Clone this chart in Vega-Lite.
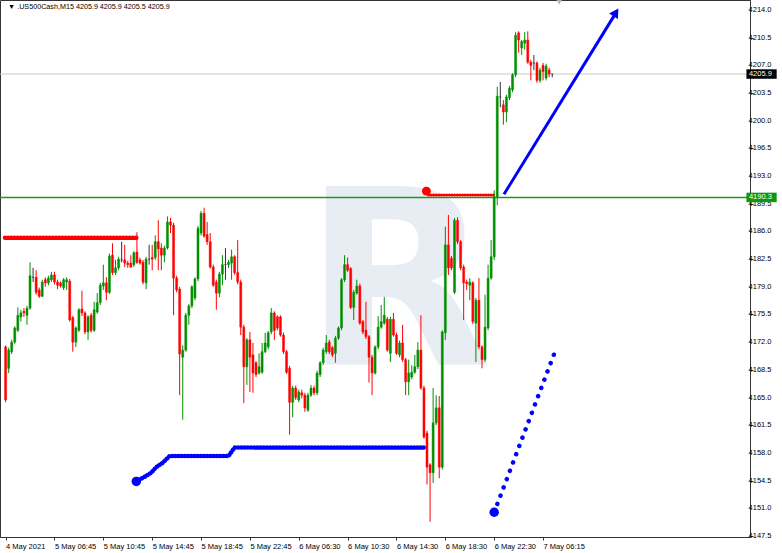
{
"$schema":"https://vega.github.io/schema/vega-lite/v6.json",
"width":750,"height":537,"autosize":{"type":"none"},"padding":{"left":0,"top":0,"right":32,"bottom":16},"background":"white",
"config":{"view":{"stroke":"#333","strokeWidth":1},"axis":{"labelFont":"Liberation Sans","labelFontSize":7.5,"labelColor":"#000","tickColor":"#333","domainColor":"#333","tickSize":3,"grid":false}},
"datasets":{
"candles":[
{"i":0,"o":4171.4,"h":4171.6,"l":4164.4,"c":4164.7},{"i":1,"o":4168.7,"h":4171.3,"l":4168.1,"c":4171.0},{"i":2,"o":4170.8,"h":4172.3,"l":4170.5,"c":4172.0},{"i":3,"o":4172.0,"h":4174.0,"l":4171.8,"c":4173.8},{"i":4,"o":4173.5,"h":4176.4,"l":4173.3,"c":4175.4},{"i":5,"o":4175.2,"h":4176.1,"l":4174.6,"c":4175.7},{"i":6,"o":4175.9,"h":4176.3,"l":4175.2,"c":4175.7},{"i":7,"o":4175.4,"h":4176.6,"l":4174.2,"c":4176.3},{"i":8,"o":4176.3,"h":4182.1,"l":4176.1,"c":4180.4},{"i":9,"o":4180.2,"h":4181.4,"l":4179.6,"c":4180.2},
{"i":10,"o":4180.2,"h":4181.1,"l":4178.0,"c":4178.3},{"i":11,"o":4178.6,"h":4178.9,"l":4177.6,"c":4177.8},{"i":12,"o":4177.8,"h":4179.9,"l":4177.7,"c":4179.6},{"i":13,"o":4179.9,"h":4180.2,"l":4179.0,"c":4179.5},{"i":14,"o":4179.5,"h":4180.4,"l":4179.2,"c":4180.1},{"i":15,"o":4179.9,"h":4180.9,"l":4179.6,"c":4180.5},{"i":16,"o":4180.5,"h":4180.9,"l":4179.3,"c":4179.6},{"i":17,"o":4179.6,"h":4179.9,"l":4178.7,"c":4179.2},{"i":18,"o":4179.5,"h":4179.7,"l":4178.9,"c":4179.1},{"i":19,"o":4178.9,"h":4180.1,"l":4178.6,"c":4179.9},
{"i":20,"o":4179.6,"h":4180.2,"l":4178.6,"c":4179.9},{"i":21,"o":4179.7,"h":4180.0,"l":4174.6,"c":4174.8},{"i":22,"o":4175.1,"h":4175.3,"l":4170.8,"c":4172.0},{"i":23,"o":4172.0,"h":4174.0,"l":4171.4,"c":4173.8},{"i":24,"o":4173.5,"h":4176.3,"l":4173.3,"c":4176.1},{"i":25,"o":4176.2,"h":4178.5,"l":4175.3,"c":4175.7},{"i":26,"o":4175.7,"h":4175.9,"l":4173.0,"c":4173.3},{"i":27,"o":4173.3,"h":4175.4,"l":4172.3,"c":4175.2},{"i":28,"o":4175.4,"h":4175.7,"l":4173.2,"c":4173.5},{"i":29,"o":4173.5,"h":4177.1,"l":4173.3,"c":4176.1},
{"i":30,"o":4175.8,"h":4178.2,"l":4175.6,"c":4177.0},{"i":31,"o":4177.0,"h":4179.5,"l":4176.7,"c":4179.2},{"i":32,"o":4179.1,"h":4181.8,"l":4178.6,"c":4179.5},{"i":33,"o":4179.5,"h":4180.2,"l":4177.3,"c":4178.3},{"i":34,"o":4178.3,"h":4183.2,"l":4178.1,"c":4182.9},{"i":35,"o":4183.0,"h":4184.5,"l":4180.5,"c":4180.8},{"i":36,"o":4180.8,"h":4182.4,"l":4180.5,"c":4181.4},{"i":37,"o":4181.4,"h":4182.8,"l":4181.1,"c":4182.5},{"i":38,"o":4182.4,"h":4184.7,"l":4182.1,"c":4182.4},{"i":39,"o":4182.4,"h":4184.3,"l":4181.5,"c":4182.0},
{"i":40,"o":4182.0,"h":4182.3,"l":4181.4,"c":4181.8},{"i":41,"o":4182.0,"h":4183.0,"l":4181.4,"c":4181.5},{"i":42,"o":4181.8,"h":4183.5,"l":4181.5,"c":4183.3},{"i":43,"o":4183.4,"h":4185.9,"l":4181.9,"c":4182.1},{"i":44,"o":4182.4,"h":4182.7,"l":4181.8,"c":4182.0},{"i":45,"o":4182.1,"h":4182.4,"l":4179.3,"c":4179.6},{"i":46,"o":4179.5,"h":4182.8,"l":4178.7,"c":4182.5},{"i":47,"o":4182.5,"h":4184.3,"l":4181.8,"c":4182.5},{"i":48,"o":4182.7,"h":4184.3,"l":4181.1,"c":4182.5},{"i":49,"o":4182.7,"h":4185.5,"l":4182.4,"c":4184.7},
{"i":50,"o":4184.7,"h":4187.4,"l":4181.1,"c":4183.8},{"i":51,"o":4183.9,"h":4184.5,"l":4181.1,"c":4183.0},{"i":52,"o":4183.0,"h":4184.2,"l":4182.1,"c":4183.9},{"i":53,"o":4183.9,"h":4187.9,"l":4183.7,"c":4187.2},{"i":54,"o":4187.2,"h":4187.7,"l":4185.8,"c":4186.8},{"i":55,"o":4186.8,"h":4187.1,"l":4175.4,"c":4180.1},{"i":56,"o":4180.1,"h":4180.4,"l":4178.3,"c":4178.6},{"i":57,"o":4178.7,"h":4179.0,"l":4165.3,"c":4170.5},{"i":58,"o":4170.1,"h":4171.6,"l":4162.2,"c":4171.0},{"i":59,"o":4171.0,"h":4175.7,"l":4170.8,"c":4175.4},
{"i":60,"o":4175.4,"h":4176.8,"l":4174.2,"c":4176.6},{"i":61,"o":4176.6,"h":4179.2,"l":4176.3,"c":4179.0},{"i":62,"o":4177.6,"h":4180.2,"l":4177.3,"c":4180.0},{"i":63,"o":4180.0,"h":4186.7,"l":4179.7,"c":4186.4},{"i":64,"o":4185.8,"h":4188.6,"l":4185.5,"c":4188.3},{"i":65,"o":4188.3,"h":4189.0,"l":4185.2,"c":4185.4},{"i":66,"o":4185.6,"h":4187.2,"l":4184.3,"c":4184.7},{"i":67,"o":4184.7,"h":4185.8,"l":4181.3,"c":4181.5},{"i":68,"o":4181.5,"h":4181.8,"l":4179.0,"c":4179.2},{"i":69,"o":4179.6,"h":4179.9,"l":4176.1,"c":4178.2},
{"i":70,"o":4178.2,"h":4180.9,"l":4177.7,"c":4180.6},{"i":71,"o":4180.6,"h":4183.0,"l":4179.2,"c":4181.8},{"i":72,"o":4181.8,"h":4183.9,"l":4179.9,"c":4181.8},{"i":73,"o":4181.8,"h":4182.4,"l":4181.4,"c":4182.1},{"i":74,"o":4182.0,"h":4183.7,"l":4179.9,"c":4182.8},{"i":75,"o":4182.8,"h":4183.0,"l":4180.5,"c":4180.8},{"i":76,"o":4180.8,"h":4184.9,"l":4179.3,"c":4179.6},{"i":77,"o":4179.6,"h":4179.9,"l":4172.9,"c":4173.9},{"i":78,"o":4173.9,"h":4174.2,"l":4164.3,"c":4168.9},{"i":79,"o":4168.9,"h":4172.5,"l":4166.6,"c":4172.3},
{"i":80,"o":4172.3,"h":4173.3,"l":4165.7,"c":4170.1},{"i":81,"o":4170.4,"h":4171.9,"l":4165.6,"c":4168.1},{"i":82,"o":4169.4,"h":4169.6,"l":4167.6,"c":4167.9},{"i":83,"o":4168.1,"h":4170.6,"l":4167.9,"c":4168.9},{"i":84,"o":4168.2,"h":4171.9,"l":4168.0,"c":4170.8},{"i":85,"o":4170.8,"h":4173.2,"l":4170.6,"c":4171.9},{"i":86,"o":4171.4,"h":4173.4,"l":4171.1,"c":4173.2},{"i":87,"o":4173.3,"h":4176.3,"l":4173.0,"c":4175.7},{"i":88,"o":4175.7,"h":4175.9,"l":4172.3,"c":4173.5},{"i":89,"o":4175.2,"h":4175.4,"l":4173.5,"c":4173.8},
{"i":90,"o":4175.2,"h":4175.4,"l":4172.7,"c":4172.9},{"i":91,"o":4172.9,"h":4173.2,"l":4170.5,"c":4170.8},{"i":92,"o":4170.8,"h":4171.0,"l":4168.0,"c":4168.2},{"i":93,"o":4168.7,"h":4169.0,"l":4160.3,"c":4164.4},{"i":94,"o":4164.4,"h":4166.5,"l":4162.5,"c":4166.2},{"i":95,"o":4166.2,"h":4166.5,"l":4164.7,"c":4165.0},{"i":96,"o":4164.7,"h":4166.0,"l":4164.4,"c":4165.7},{"i":97,"o":4165.6,"h":4166.0,"l":4164.9,"c":4165.3},{"i":98,"o":4165.3,"h":4165.6,"l":4163.2,"c":4163.7},{"i":99,"o":4163.4,"h":4165.6,"l":4163.2,"c":4165.3},
{"i":100,"o":4165.3,"h":4166.6,"l":4165.1,"c":4166.2},{"i":101,"o":4166.2,"h":4166.5,"l":4165.3,"c":4165.6},{"i":102,"o":4165.6,"h":4168.4,"l":4165.3,"c":4168.1},{"i":103,"o":4167.9,"h":4169.6,"l":4167.6,"c":4169.4},{"i":104,"o":4169.4,"h":4171.3,"l":4169.1,"c":4171.0},{"i":105,"o":4170.8,"h":4172.9,"l":4170.5,"c":4171.9},{"i":106,"o":4172.0,"h":4172.3,"l":4170.5,"c":4170.8},{"i":107,"o":4171.3,"h":4171.5,"l":4170.1,"c":4170.4},{"i":108,"o":4170.6,"h":4172.8,"l":4169.4,"c":4172.5},{"i":109,"o":4172.5,"h":4174.0,"l":4172.3,"c":4173.8},
{"i":110,"o":4173.8,"h":4180.1,"l":4173.5,"c":4179.9},{"i":111,"o":4179.9,"h":4183.0,"l":4179.6,"c":4181.8},{"i":112,"o":4181.8,"h":4182.7,"l":4180.9,"c":4181.1},{"i":113,"o":4181.3,"h":4181.5,"l":4176.2,"c":4176.4},{"i":114,"o":4176.4,"h":4178.6,"l":4174.8,"c":4178.3},{"i":115,"o":4178.2,"h":4179.9,"l":4178.0,"c":4179.1},{"i":116,"o":4179.1,"h":4179.4,"l":4174.2,"c":4174.4},{"i":117,"o":4174.6,"h":4174.8,"l":4173.0,"c":4173.3},{"i":118,"o":4173.5,"h":4177.1,"l":4172.4,"c":4172.7},{"i":119,"o":4172.7,"h":4172.9,"l":4166.9,"c":4170.1},
{"i":120,"o":4170.1,"h":4170.4,"l":4165.3,"c":4168.1},{"i":121,"o":4168.1,"h":4171.6,"l":4167.9,"c":4171.4},{"i":122,"o":4171.4,"h":4175.3,"l":4171.1,"c":4173.9},{"i":123,"o":4173.9,"h":4176.7,"l":4173.7,"c":4174.6},{"i":124,"o":4174.4,"h":4177.7,"l":4174.2,"c":4175.4},{"i":125,"o":4174.9,"h":4175.2,"l":4170.8,"c":4171.0},{"i":126,"o":4170.6,"h":4175.2,"l":4169.5,"c":4174.9},{"i":127,"o":4174.9,"h":4175.7,"l":4172.7,"c":4172.9},{"i":128,"o":4172.9,"h":4173.2,"l":4170.4,"c":4170.6},{"i":129,"o":4170.4,"h":4172.2,"l":4170.1,"c":4171.9},
{"i":130,"o":4171.9,"h":4174.2,"l":4169.5,"c":4169.8},{"i":131,"o":4169.8,"h":4170.0,"l":4165.3,"c":4167.0},{"i":132,"o":4167.0,"h":4169.8,"l":4165.3,"c":4168.1},{"i":133,"o":4167.6,"h":4169.1,"l":4167.3,"c":4168.2},{"i":134,"o":4168.2,"h":4170.4,"l":4168.0,"c":4168.9},{"i":135,"o":4168.9,"h":4172.0,"l":4168.6,"c":4171.0},{"i":136,"o":4171.0,"h":4175.4,"l":4166.0,"c":4166.2},{"i":137,"o":4166.2,"h":4166.5,"l":4159.8,"c":4160.0},{"i":138,"o":4160.5,"h":4160.8,"l":4154.0,"c":4156.2},{"i":139,"o":4156.5,"h":4156.7,"l":4149.3,"c":4155.5},
{"i":140,"o":4155.5,"h":4166.2,"l":4154.2,"c":4161.8},{"i":141,"o":4161.8,"h":4165.3,"l":4161.5,"c":4163.7},{"i":142,"o":4163.7,"h":4165.2,"l":4154.8,"c":4156.2},{"i":143,"o":4156.2,"h":4173.5,"l":4155.9,"c":4173.3},{"i":144,"o":4173.2,"h":4186.6,"l":4172.3,"c":4184.3},{"i":145,"o":4184.3,"h":4188.1,"l":4180.5,"c":4181.4},{"i":146,"o":4182.6,"h":4182.9,"l":4181.1,"c":4181.4},{"i":147,"o":4178.3,"h":4187.7,"l":4178.1,"c":4187.4},{"i":148,"o":4187.4,"h":4187.8,"l":4184.4,"c":4184.7},{"i":149,"o":4184.7,"h":4184.9,"l":4181.1,"c":4181.4},
{"i":150,"o":4181.5,"h":4181.8,"l":4174.8,"c":4179.5},{"i":151,"o":4179.6,"h":4179.9,"l":4178.6,"c":4179.4},{"i":152,"o":4179.2,"h":4180.1,"l":4177.3,"c":4179.6},{"i":153,"o":4179.5,"h":4179.7,"l":4174.3,"c":4174.6},{"i":154,"o":4174.4,"h":4177.6,"l":4169.5,"c":4177.3},{"i":155,"o":4177.3,"h":4180.1,"l":4171.1,"c":4171.4},{"i":156,"o":4171.4,"h":4171.6,"l":4168.7,"c":4169.8},{"i":157,"o":4169.8,"h":4178.0,"l":4169.5,"c":4173.9},{"i":158,"o":4173.8,"h":4181.8,"l":4173.5,"c":4180.1},{"i":159,"o":4180.1,"h":4184.9,"l":4179.9,"c":4182.8},
{"i":160,"o":4182.8,"h":4191.2,"l":4182.4,"c":4190.4},{"i":161,"o":4190.4,"h":4204.3,"l":4189.3,"c":4203.1},{"i":162,"o":4203.0,"h":4204.9,"l":4201.7,"c":4203.0},{"i":163,"o":4202.0,"h":4202.6,"l":4199.5,"c":4201.1},{"i":164,"o":4201.1,"h":4203.3,"l":4199.8,"c":4203.0},{"i":165,"o":4202.9,"h":4204.4,"l":4202.6,"c":4204.1},{"i":166,"o":4203.9,"h":4206.0,"l":4203.6,"c":4205.8},{"i":167,"o":4205.8,"h":4211.2,"l":4205.5,"c":4210.8},{"i":168,"o":4211.1,"h":4211.3,"l":4208.6,"c":4210.2},{"i":169,"o":4209.2,"h":4210.2,"l":4208.3,"c":4210.0},
{"i":170,"o":4209.8,"h":4211.2,"l":4209.0,"c":4210.2},{"i":171,"o":4210.2,"h":4211.3,"l":4207.2,"c":4207.4},{"i":172,"o":4207.4,"h":4207.7,"l":4205.1,"c":4207.0},{"i":173,"o":4207.3,"h":4208.3,"l":4206.4,"c":4207.3},{"i":174,"o":4207.3,"h":4207.5,"l":4204.8,"c":4205.1},{"i":175,"o":4205.1,"h":4206.7,"l":4204.8,"c":4206.4},{"i":176,"o":4207.0,"h":4207.3,"l":4205.1,"c":4206.2},{"i":177,"o":4205.4,"h":4207.2,"l":4205.1,"c":4206.9},{"i":178,"o":4206.4,"h":4206.7,"l":4205.5,"c":4205.9},{"i":179,"o":4205.9,"h":4205.9,"l":4205.5,"c":4205.9}
],
"lines":[
{"s":"redLevel","i":-0.2,"p":4185.2},{"s":"redLevel","i":42.8,"p":4185.2},
{"s":"blueStep","i":42.8,"p":4154.4},{"s":"blueStep","i":45.6,"p":4155.0},{"s":"blueStep","i":47.7,"p":4155.5},{"s":"blueStep","i":49.3,"p":4156.2},{"s":"blueStep","i":51.3,"p":4156.7},{"s":"blueStep","i":53.7,"p":4157.6},{"s":"blueStep","i":73.0,"p":4157.6},{"s":"blueStep","i":75.0,"p":4158.7},{"s":"blueStep","i":137.7,"p":4158.7},
{"s":"redShort","i":138.5,"p":4190.6},{"s":"redShort","i":160,"p":4190.6},
{"s":"blueDiag","i":160,"p":4150.5},{"s":"blueDiag","i":180,"p":4170.9},
{"s":"arrow","i":163.2,"p":4190.7},{"s":"arrow","i":199.8,"p":4213.6}
],
"pts":[
{"k":"redDot","i":137.8,"p":4191.1},{"k":"blueDot","i":42.8,"p":4154.4},{"k":"blueDot","i":160,"p":4150.5},{"k":"arrowHead","i":199.86,"p":4213.69}
],
"yticks":[{"t":4147.5},{"t":4151},{"t":4154.5},{"t":4158},{"t":4161.5},{"t":4165},{"t":4168.5},{"t":4172},{"t":4175.5},{"t":4179},{"t":4182.5},{"t":4186},{"t":4189.5},{"t":4193},{"t":4196.5},{"t":4200},{"t":4203.5},{"t":4207},{"t":4210.5},{"t":4214}]
},
"layer":[
{"data":{"values":[{}]},"mark":{"type":"text","text":"R","font":"DejaVu Sans","fontWeight":"bold","fontSize":245,"color":"#e8ecf3","align":"center","baseline":"alphabetic"},
 "encoding":{"x":{"datum":128.4,"type":"quantitative","scale":{"domain":[-0.2,242.13],"nice":false,"zero":false},"axis":{"title":null}},"y":{"datum":4169.2,"type":"quantitative","scale":{"domain":[4147.37,4215.26],"nice":false,"zero":false},"axis":{"title":null}}}},
{"data":{"values":[{}]},"mark":{"type":"rule","color":"#c8c8c8","strokeWidth":1},"encoding":{"y":{"datum":4205.9,"type":"quantitative","scale":{"domain":[4147.37,4215.26],"nice":false,"zero":false},"axis":{"title":null}}}},
{"data":{"values":[{}]},"mark":{"type":"rule","color":"#1a9a1a","strokeWidth":1.5},"encoding":{"y":{"datum":4190.3,"type":"quantitative","scale":{"domain":[4147.37,4215.26],"nice":false,"zero":false},"axis":{"title":null}}}},
{"data":{"name":"lines"},"transform":[{"filter":"datum.s==='redLevel'"}],"mark":{"type":"line","color":"#ff0000","strokeWidth":4.5,"strokeCap":"round","strokeDash":[0.1,3.1]},
 "encoding":{"x":{"field":"i","type":"quantitative","scale":{"domain":[-0.2,242.13],"nice":false,"zero":false},"axis":{"title":null}},"y":{"field":"p","type":"quantitative","scale":{"domain":[4147.37,4215.26],"nice":false,"zero":false},"axis":{"title":null}}}},
{"data":{"name":"lines"},"transform":[{"filter":"datum.s==='blueStep'"}],"mark":{"type":"line","color":"#0000ff","strokeWidth":4.5,"strokeCap":"round","strokeDash":[0.1,3.1]},
 "encoding":{"x":{"field":"i","type":"quantitative","scale":{"domain":[-0.2,242.13],"nice":false,"zero":false},"axis":{"title":null}},"y":{"field":"p","type":"quantitative","scale":{"domain":[4147.37,4215.26],"nice":false,"zero":false},"axis":{"title":null}}}},
{"data":{"name":"lines"},"transform":[{"filter":"datum.s==='redShort'"}],"mark":{"type":"line","color":"#ff0000","strokeWidth":3,"strokeCap":"round","strokeDash":[0.1,2.5]},
 "encoding":{"x":{"field":"i","type":"quantitative","scale":{"domain":[-0.2,242.13],"nice":false,"zero":false},"axis":{"title":null}},"y":{"field":"p","type":"quantitative","scale":{"domain":[4147.37,4215.26],"nice":false,"zero":false},"axis":{"title":null}}}},
{"data":{"name":"candles"},"mark":{"type":"rule","strokeWidth":1},
 "encoding":{
  "x":{"field":"i","type":"quantitative","scale":{"domain":[-0.2,242.13],"nice":false,"zero":false},
   "axis":{"title":null,"values":[0,16,32,48,64,80,96,112,128,144,160,176],"labelAlign":"left","labelPadding":2,"labelFlush":false,"labelOverlap":false,
   "labelExpr":"['4 May 2021','5 May 06:45','5 May 10:45','5 May 14:45','5 May 18:45','5 May 22:45','6 May 06:30','6 May 10:30','6 May 14:30','6 May 18:30','6 May 22:30','7 May 06:15'][round(datum.value/16)]"}},
  "y":{"field":"l","type":"quantitative","scale":{"domain":[4147.37,4215.26],"nice":false,"zero":false},
   "axis":{"title":null,"orient":"right","labels":false,"values":[4147.5,4151,4154.5,4158,4161.5,4165,4168.5,4172,4175.5,4179,4182.5,4186,4189.5,4193,4196.5,4200,4203.5,4207,4210.5,4214]}},
  "y2":{"field":"h"},
  "color":{"condition":[{"test":"datum.c > datum.o","value":"#008f00"},{"test":"datum.c < datum.o","value":"#ff0000"}],"value":"#333333"}}},
{"data":{"name":"candles"},"mark":{"type":"bar","width":2,"strokeWidth":0.5},
 "encoding":{
  "x":{"field":"i","type":"quantitative","scale":{"domain":[-0.2,242.13],"nice":false,"zero":false},"axis":{"title":null}},
  "y":{"field":"o","type":"quantitative","scale":{"domain":[4147.37,4215.26],"nice":false,"zero":false},"axis":{"title":null}},
  "y2":{"field":"c"},
  "color":{"condition":[{"test":"datum.c > datum.o","value":"#008f00"},{"test":"datum.c < datum.o","value":"#ff0000"}],"value":"#333333"},
  "stroke":{"condition":[{"test":"datum.c > datum.o","value":"#008f00"},{"test":"datum.c < datum.o","value":"#ff0000"}],"value":"#333333"}}},
{"data":{"name":"lines"},"transform":[{"filter":"datum.s==='blueDiag'"}],"mark":{"type":"line","color":"#0000ff","strokeWidth":4.5,"strokeCap":"round","strokeDash":[0.1,8.76]},
 "encoding":{"x":{"field":"i","type":"quantitative","scale":{"domain":[-0.2,242.13],"nice":false,"zero":false},"axis":{"title":null}},"y":{"field":"p","type":"quantitative","scale":{"domain":[4147.37,4215.26],"nice":false,"zero":false},"axis":{"title":null}}}},
{"data":{"name":"lines"},"transform":[{"filter":"datum.s==='arrow'"}],"mark":{"type":"line","color":"#0000ff","strokeWidth":3},
 "encoding":{"x":{"field":"i","type":"quantitative","scale":{"domain":[-0.2,242.13],"nice":false,"zero":false},"axis":{"title":null}},"y":{"field":"p","type":"quantitative","scale":{"domain":[4147.37,4215.26],"nice":false,"zero":false},"axis":{"title":null}}}},
{"data":{"name":"pts"},"transform":[{"filter":"datum.k==='arrowHead'"}],"mark":{"type":"point","shape":"triangle-up","angle":32,"filled":true,"opacity":1,"color":"#0000ff","size":110},
 "encoding":{"x":{"field":"i","type":"quantitative","scale":{"domain":[-0.2,242.13],"nice":false,"zero":false},"axis":{"title":null}},"y":{"field":"p","type":"quantitative","scale":{"domain":[4147.37,4215.26],"nice":false,"zero":false},"axis":{"title":null}}}},
{"data":{"name":"pts"},"transform":[{"filter":"datum.k==='redDot'"}],"mark":{"type":"circle","opacity":1,"color":"#ff0000","size":80},
 "encoding":{"x":{"field":"i","type":"quantitative","scale":{"domain":[-0.2,242.13],"nice":false,"zero":false},"axis":{"title":null}},"y":{"field":"p","type":"quantitative","scale":{"domain":[4147.37,4215.26],"nice":false,"zero":false},"axis":{"title":null}}}},
{"data":{"name":"pts"},"transform":[{"filter":"datum.k==='blueDot'"}],"mark":{"type":"circle","opacity":1,"color":"#0000ff","size":90},
 "encoding":{"x":{"field":"i","type":"quantitative","scale":{"domain":[-0.2,242.13],"nice":false,"zero":false},"axis":{"title":null}},"y":{"field":"p","type":"quantitative","scale":{"domain":[4147.37,4215.26],"nice":false,"zero":false},"axis":{"title":null}}}},
{"data":{"values":[{}]},"mark":{"type":"point","shape":"triangle-down","filled":true,"opacity":1,"color":"#b4b4b4","size":30},
 "encoding":{"x":{"datum":181.3,"type":"quantitative","scale":{"domain":[-0.2,242.13],"nice":false,"zero":false},"axis":{"title":null}},"y":{"datum":4215.0,"type":"quantitative","scale":{"domain":[4147.37,4215.26],"nice":false,"zero":false},"axis":{"title":null}}}},
{"data":{"values":[{}]},"mark":{"type":"text","text":"▼  .US500Cash,M15  4205.9 4205.9 4205.5 4205.9","font":"Liberation Sans","fontSize":7.2,"color":"#000","align":"left","baseline":"middle"},
 "encoding":{"x":{"datum":0.8,"type":"quantitative","scale":{"domain":[-0.2,242.13],"nice":false,"zero":false},"axis":{"title":null}},"y":{"datum":4214.4,"type":"quantitative","scale":{"domain":[4147.37,4215.26],"nice":false,"zero":false},"axis":{"title":null}}}},
{"data":{"name":"yticks"},"mark":{"type":"text","font":"Liberation Sans","fontSize":7.5,"color":"#000","align":"left","baseline":"middle"},
 "encoding":{"x":{"datum":243.3,"type":"quantitative","scale":{"domain":[-0.2,242.13],"nice":false,"zero":false},"axis":{"title":null}},"y":{"field":"t","type":"quantitative","scale":{"domain":[4147.37,4215.26],"nice":false,"zero":false},"axis":{"title":null}},"text":{"field":"t","type":"quantitative","format":".1f"}}},
{"data":{"values":[{}]},"mark":{"type":"rect","color":"#000000"},
 "encoding":{"x":{"datum":242.6,"type":"quantitative","scale":{"domain":[-0.2,242.13],"nice":false,"zero":false},"axis":{"title":null}},"x2":{"datum":252.5},"y":{"datum":4206.5,"type":"quantitative","scale":{"domain":[4147.37,4215.26],"nice":false,"zero":false},"axis":{"title":null}},"y2":{"datum":4205.3}}},
{"data":{"values":[{}]},"mark":{"type":"rect","color":"#0a9a0a"},
 "encoding":{"x":{"datum":242.6,"type":"quantitative","scale":{"domain":[-0.2,242.13],"nice":false,"zero":false},"axis":{"title":null}},"x2":{"datum":252.5},"y":{"datum":4190.9,"type":"quantitative","scale":{"domain":[4147.37,4215.26],"nice":false,"zero":false},"axis":{"title":null}},"y2":{"datum":4189.7}}},
{"data":{"values":[{}]},"mark":{"type":"text","text":"4205.9","font":"Liberation Sans","fontSize":7.5,"color":"#ffffff","align":"left","baseline":"middle"},
 "encoding":{"x":{"datum":243.4,"type":"quantitative","scale":{"domain":[-0.2,242.13],"nice":false,"zero":false},"axis":{"title":null}},"y":{"datum":4205.9,"type":"quantitative","scale":{"domain":[4147.37,4215.26],"nice":false,"zero":false},"axis":{"title":null}}}},
{"data":{"values":[{}]},"mark":{"type":"text","text":"4190.3","font":"Liberation Sans","fontSize":7.5,"color":"#ffffff","align":"left","baseline":"middle"},
 "encoding":{"x":{"datum":243.4,"type":"quantitative","scale":{"domain":[-0.2,242.13],"nice":false,"zero":false},"axis":{"title":null}},"y":{"datum":4190.3,"type":"quantitative","scale":{"domain":[4147.37,4215.26],"nice":false,"zero":false},"axis":{"title":null}}}}
]
}
